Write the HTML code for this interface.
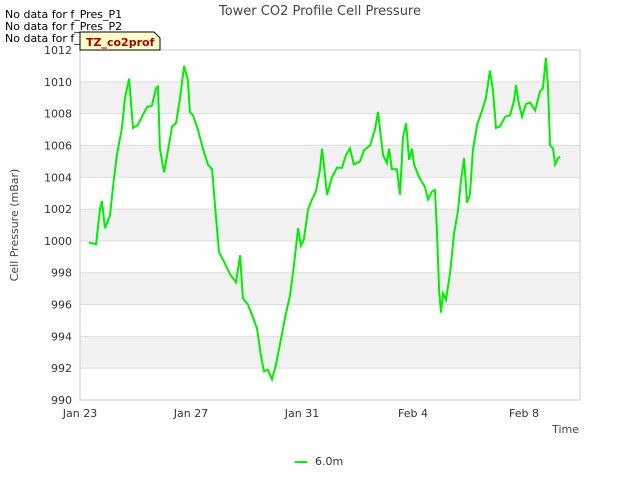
<!DOCTYPE html>
<html><head><meta charset="utf-8"><style>
body{margin:0;width:640px;height:480px;background:#fff;font-family:"Liberation Sans","DejaVu Sans",sans-serif;overflow:hidden}
svg text{font-family:"DejaVu Sans","Liberation Sans",sans-serif}
</style></head><body>
<svg id="chart" width="640" height="480">
<text x="320" y="15" text-anchor="middle" font-size="13" fill="#444">Tower CO2 Profile Cell Pressure</text>
<g id="bands"></g>
<rect x="80" y="50" width="500" height="350" fill="none" stroke="#ccc"/>
<g id="yticks"></g>
<g id="xticks"></g>
<text x="18" y="225" transform="rotate(-90 18 225)" text-anchor="middle" font-size="11" fill="#444">Cell Pressure (mBar)</text>
<text x="579" y="433" text-anchor="end" font-size="11" fill="#444">Time</text>
<path id="line" fill="none" stroke="#00ee00" stroke-width="2"/>
<text x="5" y="18" font-size="11" fill="#000">No data for f_Pres_P1</text>
<text x="5" y="30" font-size="11" fill="#000">No data for f_Pres_P2</text>
<text x="5" y="42" font-size="11" fill="#000">No data for f_Pres_P4</text>
<path d="M80,32 H154 L160,38 V50 H80 Z" fill="#ffffcc" stroke="#000" stroke-width="1"/>
<text x="86" y="46" font-size="11" font-weight="bold" fill="#aa0000">TZ_co2prof</text>
<line x1="295" y1="462" x2="307" y2="462" stroke="#00ee00" stroke-width="2"/>
<text x="315" y="465" font-size="11" fill="#333">6.0m</text>
</svg>
<script>
const days=[0.32,0.58,0.72,0.79,0.9,1.08,1.19,1.33,1.51,1.62,1.77,1.91,2.09,2.23,2.41,2.59,2.74,2.81,2.88,3.03,3.17,3.32,3.46,3.6,3.75,3.89,3.96,4.07,4.25,4.43,4.61,4.76,4.86,5.01,5.19,5.41,5.62,5.77,5.87,6.05,6.23,6.38,6.52,6.63,6.77,6.92,7.06,7.24,7.39,7.57,7.71,7.86,7.96,8.07,8.22,8.36,8.5,8.65,8.72,8.79,8.9,9.08,9.26,9.44,9.59,9.73,9.87,10.09,10.23,10.45,10.63,10.74,10.92,11.06,11.14,11.24,11.42,11.53,11.64,11.75,11.86,11.96,12.04,12.22,12.43,12.54,12.68,12.79,12.86,12.94,13.01,13.08,13.19,13.33,13.48,13.62,13.73,13.84,13.95,14.05,14.16,14.31,14.49,14.63,14.77,14.88,14.99,15.14,15.32,15.5,15.64,15.71,15.82,15.93,16.07,16.22,16.4,16.58,16.68,16.79,16.86,16.94,17.05,17.12,17.23,17.3];
const pressure=[999.9,999.8,1002.0,1002.5,1000.8,1001.6,1003.4,1005.4,1007.1,1009.0,1010.2,1007.1,1007.3,1007.8,1008.4,1008.5,1009.6,1009.7,1005.8,1004.3,1005.7,1007.2,1007.4,1008.9,1011.0,1010.1,1008.1,1007.9,1007.0,1005.8,1004.8,1004.5,1002.3,999.3,998.7,997.9,997.4,999.1,996.4,996.0,995.2,994.5,992.8,991.8,991.9,991.3,992.2,993.8,995.2,996.6,998.5,1000.8,999.7,1000.1,1002.0,1002.6,1003.1,1004.5,1005.8,1004.8,1002.9,1004.0,1004.6,1004.6,1005.4,1005.8,1004.8,1005.0,1005.7,1006.0,1007.0,1008.1,1005.4,1004.9,1005.8,1004.5,1004.5,1002.9,1006.5,1007.4,1005.1,1005.8,1004.8,1004.0,1003.4,1002.6,1003.1,1003.2,1000.7,996.9,995.5,996.7,996.3,997.9,1000.5,1001.9,1003.8,1005.2,1002.4,1002.9,1005.7,1007.3,1008.2,1009.0,1010.7,1009.5,1007.1,1007.2,1007.8,1007.9,1008.8,1009.8,1008.6,1007.8,1008.6,1008.7,1008.2,1009.4,1009.6,1011.5,1009.8,1006.0,1005.8,1004.8,1005.2,1005.3];
const yTicks=[990,992,994,996,998,1000,1002,1004,1006,1008,1010,1012];
const xTickDays=[0,4,8,12,16];
const xTickLabels=["Jan 23","Jan 27","Jan 31","Feb 4","Feb 8"];
const X=d=>80+d*27.75, Y=v=>400-(v-990)*350/22;
const NS="http://www.w3.org/2000/svg";
const bands=document.getElementById('bands'),yt=document.getElementById('yticks'),xt=document.getElementById('xticks');
for(let i=0;i<yTicks.length-1;i++){
 if(i%2===1){const r=document.createElementNS(NS,'rect');
 
 
 r.setAttribute('x',80);r.setAttribute('width',500);r.setAttribute('y',Y(yTicks[i+1]));r.setAttribute('height',Y(yTicks[i])-Y(yTicks[i+1]));r.setAttribute('fill','#f2f2f2');bands.appendChild(r);}
}
yTicks.forEach(v=>{
 const l=document.createElementNS(NS,'line');
 
 
 l.setAttribute('x1',80);l.setAttribute('x2',580);l.setAttribute('y1',Y(v));l.setAttribute('y2',Y(v));l.setAttribute('stroke','#ddd');bands.appendChild(l);
 const t=document.createElementNS(NS,'text');
 
 
 t.setAttribute('x',72);t.setAttribute('y',Y(v)+4);t.setAttribute('text-anchor','end');t.setAttribute('font-size','11');t.setAttribute('fill','#333');t.textContent=v;yt.appendChild(t);
});
xTickDays.forEach((d,i)=>{
 const t=document.createElementNS(NS,'text');
 
 
 t.setAttribute('x',X(d));t.setAttribute('y',417);t.setAttribute('text-anchor','middle');t.setAttribute('font-size','11');t.setAttribute('fill','#333');t.textContent=xTickLabels[i];xt.appendChild(t);
});
document.getElementById('line').setAttribute('d',days.map((d,i)=>(i?'L':'M')+X(d).toFixed(1)+','+Y(pressure[i]).toFixed(1)).join(''));
</script>
</body></html>
